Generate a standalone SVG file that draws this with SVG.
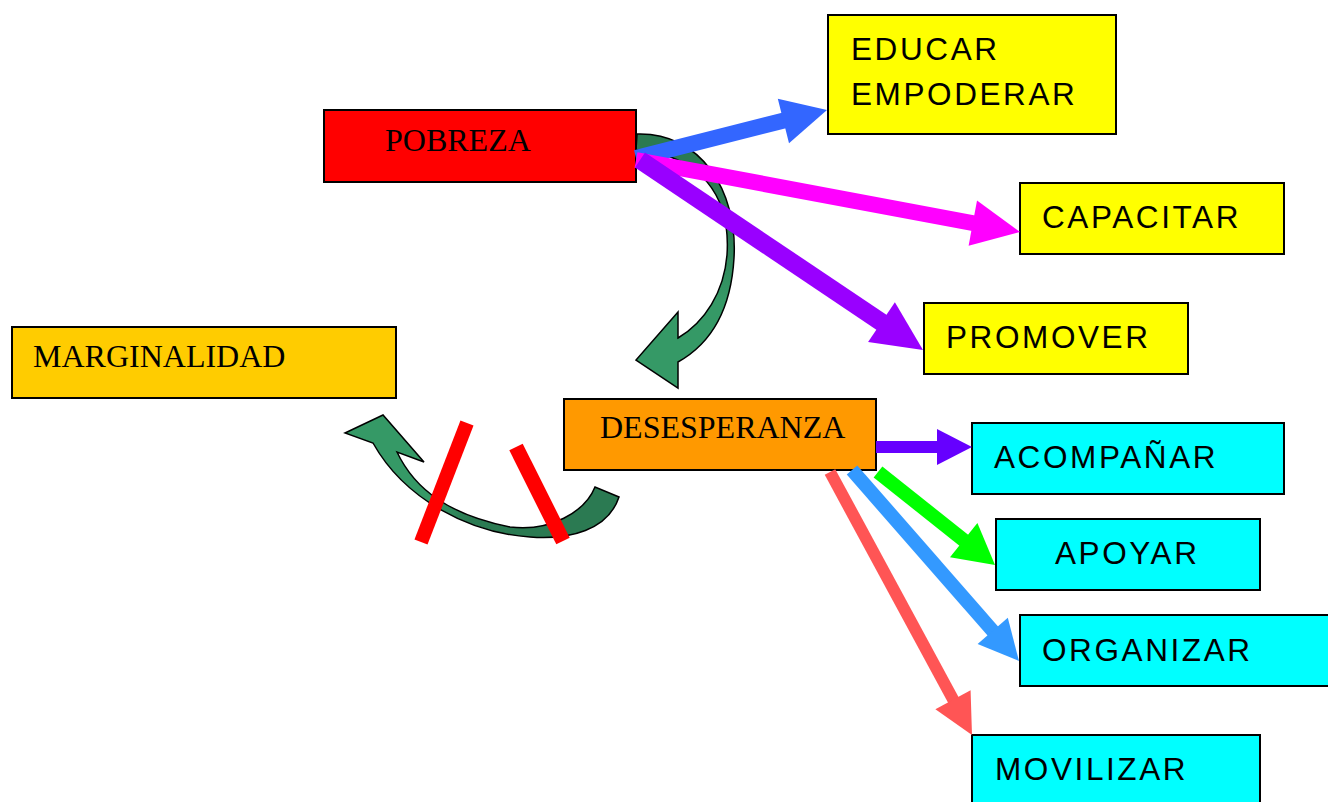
<svg xmlns="http://www.w3.org/2000/svg" width="1328" height="802" viewBox="0 0 1328 802">
<defs>
<style>
.box{stroke:#000;stroke-width:2}
.tr{font-family:"Liberation Serif","Times New Roman",serif;font-size:32px;fill:#000}
.ar{font-family:"Liberation Sans",Arial,sans-serif;font-size:31.5px;letter-spacing:2.6px;fill:#000}
.curve{stroke:#000;stroke-width:1.5;stroke-linejoin:miter}
</style>
<linearGradient id="g1" gradientUnits="userSpaceOnUse" x1="0" y1="230" x2="0" y2="300">
<stop offset="0" stop-color="#2B7A52"/><stop offset="1" stop-color="#359966"/>
</linearGradient>
<linearGradient id="g2" gradientUnits="userSpaceOnUse" x1="470" y1="0" x2="430" y2="0">
<stop offset="0" stop-color="#2B7A52"/><stop offset="1" stop-color="#359966"/>
</linearGradient>
</defs>
<rect width="1328" height="802" fill="#fff"/>
<g id="curves">
<path class="curve" fill="url(#g1)" d="M 637,134 C 700,132 738,190 734,258 C 731,310 712,343 678,362 L 678,388 L 636,360 L 678,312 L 678,338 C 705,322 724,292 727,255 C 731,195 700,155 636,150 Z"/>
<path class="curve" fill="url(#g2)" d="M 345,433 L 383,415 L 424,462 L 397,452 C 415,490 450,515 510,527 C 550,532 585,512 595,487 L 619,497 C 608,530 570,540 530,537 C 470,533 405,500 373,443 Z"/>
</g>
<g id="pobreza"><rect class="box" x="324" y="110" width="312" height="72" fill="#FF0000"/><text class="tr" x="385" y="151" font-size="31">POBREZA</text></g>
<g id="educar"><rect class="box" x="828" y="15" width="288" height="119" fill="#FFFF00"/><text class="ar" x="851" y="60">EDUCAR</text><text class="ar" x="851" y="105">EMPODERAR</text></g>
<g id="capacitar"><rect class="box" x="1020" y="183" width="264" height="71" fill="#FFFF00"/><text class="ar" x="1042" y="228">CAPACITAR</text></g>
<g id="promover"><rect class="box" x="924" y="303" width="264" height="71" fill="#FFFF00"/><text class="ar" x="946" y="348">PROMOVER</text></g>
<g id="marginalidad"><rect class="box" x="12" y="327" width="384" height="71" fill="#FFCC00"/><text class="tr" x="33" y="367">MARGINALIDAD</text></g>
<g id="desesperanza"><rect class="box" x="564" y="399" width="312" height="71" fill="#FF9900"/><text class="tr" x="600" y="438">DESESPERANZA</text></g>
<g id="acompanar"><rect class="box" x="972" y="423" width="312" height="71" fill="#00FFFF"/><text class="ar" x="994" y="468">ACOMPAÑAR</text></g>
<g id="apoyar"><rect class="box" x="996" y="519" width="264" height="71" fill="#00FFFF"/><text class="ar" x="1055" y="564">APOYAR</text></g>
<g id="organizar"><rect class="box" x="1020" y="615" width="312" height="71" fill="#00FFFF"/><text class="ar" x="1042" y="661">ORGANIZAR</text></g>
<g id="movilizar"><rect class="box" x="972" y="735" width="288" height="71" fill="#00FFFF"/><text class="ar" x="995" y="780">MOVILIZAR</text></g>
<g id="connectors">
<line x1="636" y1="158" x2="786" y2="120" stroke="#3366FF" stroke-width="16"/>
<polygon points="827,110 777.8,98.7 789,143.3" fill="#3366FF"/>
<line x1="636" y1="160" x2="975" y2="223.5" stroke="#FF00FF" stroke-width="16"/>
<polygon points="1020,232 977,200.6 968.6,245.8" fill="#FF00FF"/>
<line x1="640" y1="160" x2="884" y2="324" stroke="#9900FF" stroke-width="18"/>
<polygon points="923,350 894.9,302.2 868.1,342" fill="#9900FF"/>
<line x1="876" y1="447" x2="940" y2="447" stroke="#6600FF" stroke-width="12"/>
<polygon points="972,447 937,429 937,465" fill="#6600FF"/>
<line x1="878" y1="472" x2="966" y2="542" stroke="#00FF00" stroke-width="14"/>
<polygon points="995,565 977.4,522.9 950,557.3" fill="#00FF00"/>
<line x1="852" y1="470" x2="995" y2="633.5" stroke="#3399FF" stroke-width="14"/>
<polygon points="1019,661 1007.8,617.7 977.6,644" fill="#3399FF"/>
<line x1="830" y1="472" x2="955" y2="703" stroke="#FF5555" stroke-width="12"/>
<polygon points="972,735 970.6,690.3 935.4,709.3" fill="#FF5555"/>
</g>
<g id="slashes">
<line x1="467" y1="423" x2="421" y2="542" stroke="#FF0000" stroke-width="14"/>
<line x1="516" y1="447" x2="563" y2="541" stroke="#FF0000" stroke-width="15"/>
</g>
</svg>
